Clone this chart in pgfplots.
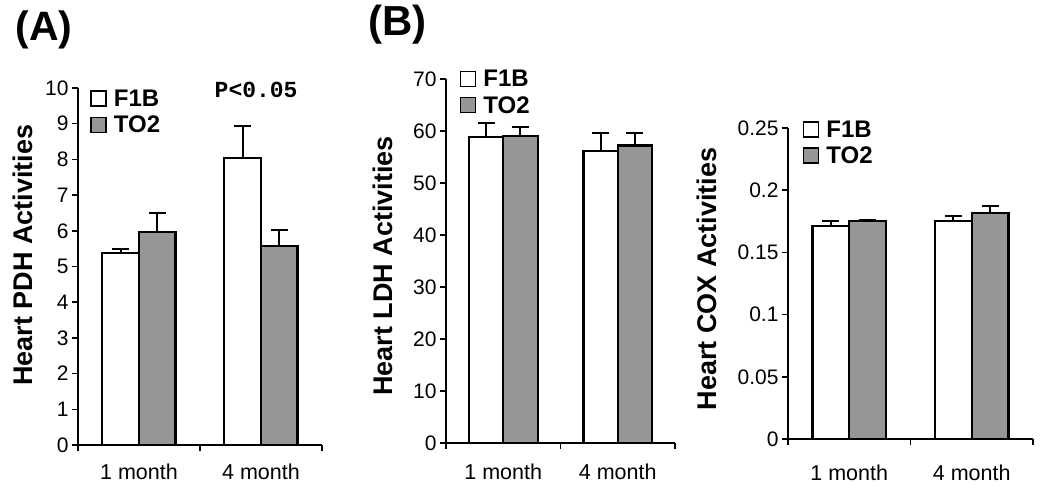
\documentclass[border=0pt]{standalone}
\usepackage{fontspec}
\setmainfont{Liberation Sans}
\newfontfamily\monofont{Liberation Mono}
\usepackage{pgfplots}
\pgfplotsset{compat=1.18}
\definecolor{barfill}{HTML}{969696}
\pgfplotsset{
 mybar/.style={
  scale only axis,
  axis lines=left,
  axis line style={-, line width=1.5pt},
  ybar=0pt,
  bar width=0.3,
  xmin=-0.5, xmax=1.5,
  ymin=0,
  xtick={-0.5,0.5,1.5},
  xticklabels={},
  extra x ticks={0,1},
  extra x tick labels={1 month,4 month},
  extra x tick style={major tick length=0pt},
  tick align=outside,
  major tick length=6pt,
  tick style={line width=1.5pt, black},
  xticklabel style={font=\fontsize{21.5}{24}\selectfont, yshift=-15pt},
  yticklabel style={font=\fontsize{21}{23}\selectfont},
  /pgf/number format/assume math mode=true,
  ylabel style={font=\bfseries\fontsize{27}{29}\selectfont, anchor=center},
  legend style={draw=none, fill=none, font=\bfseries\fontsize{24}{27}\selectfont, anchor=north west, inner sep=0pt, row sep=4pt, column sep=5pt},
  legend cell align=left,
  clip=false,
 },
 sq/.style={legend image code/.code={\draw[line width=1.5pt, draw=black, fill=#1] (0pt,-7pt) rectangle (15pt,8pt);}},
 f1b/.style={fill=white, draw=black, line width=2.2pt, sq=white,
   error bars/.cd, y dir=plus, y explicit, error bar style={line width=2pt, black},
   error mark options={rotate=90, mark size=8.5pt, line width=2pt, black}},
 to2/.style={fill=barfill, draw=black, line width=2.2pt, sq=barfill,
   error bars/.cd, y dir=plus, y explicit, error bar style={line width=2pt, black},
   error mark options={rotate=90, mark size=8.5pt, line width=2pt, black}},
}
\begin{document}
\begin{tikzpicture}
\useasboundingbox (0,0) rectangle (1050pt,499pt);
\node[anchor=base west, font=\bfseries\fontsize{41}{44}\selectfont] at (12pt,458pt) {(A)};
\node[anchor=base west, font=\bfseries\fontsize{42}{44}\selectfont] at (365pt,463pt) {(B)};
% Panel A
\begin{axis}[mybar, at={(78pt,54pt)}, anchor=south west, width=244pt, height=357pt,
  ymax=10, ytick={0,1,...,10},
  ylabel={Heart PDH Activities},
  ylabel style={at={(axis description cs:-0.225,0.532)}},
  legend style={at={(axis description cs:0.05,1.0)}}]
\addplot+[f1b] coordinates {(0,5.37) +- (0,0.13) (1,8.03) +- (0,0.91)};
\addplot+[to2] coordinates {(0,5.97) +- (0,0.54) (1,5.58) +- (0,0.44)};
\legend{F1B,TO2}
\node[font=\monofont\bfseries\fontsize{23}{26}\selectfont, anchor=base] at (axis cs:0.96,9.72) {P<0.05};
\end{axis}
% Panel B
\begin{axis}[mybar, at={(446pt,56pt)}, anchor=south west, width=229pt, height=364pt,
  ymax=70, ytick={0,10,...,70},
  ylabel={Heart LDH Activities},
  ylabel style={at={(axis description cs:-0.275,0.486)}},
  xticklabel style={yshift=-2pt},
  legend style={at={(axis description cs:0.06,1.03)}}]
\addplot+[f1b] coordinates {(0,58.8) +- (0,2.7) (1,56.2) +- (0,3.4)};
\addplot+[to2] coordinates {(0,59.05) +- (0,1.65) (1,57.2) +- (0,2.4)};
\legend{F1B,TO2}
\end{axis}
% Panel C
\begin{axis}[mybar, at={(788pt,60pt)}, anchor=south west, width=245pt, height=311pt,
  ymax=0.25, ytick={0,0.05,0.1,0.15,0.2,0.25},
  yticklabels={0,0.05,0.1,0.15,0.2,0.25},
  scaled y ticks=false,
  ylabel={Heart COX Activities},
  ylabel style={at={(axis description cs:-0.33,0.514)}},
  xticklabel style={yshift=-7pt},
  legend style={at={(axis description cs:0.06,1.03)}}]
\addplot+[f1b] coordinates {(0,0.1711) +- (0,0.0043) (1,0.175) +- (0,0.0041)};
\addplot+[to2] coordinates {(0,0.1751) +- (0,0.0009) (1,0.1818) +- (0,0.0054)};
\legend{F1B,TO2}
\end{axis}
\end{tikzpicture}
\end{document}
